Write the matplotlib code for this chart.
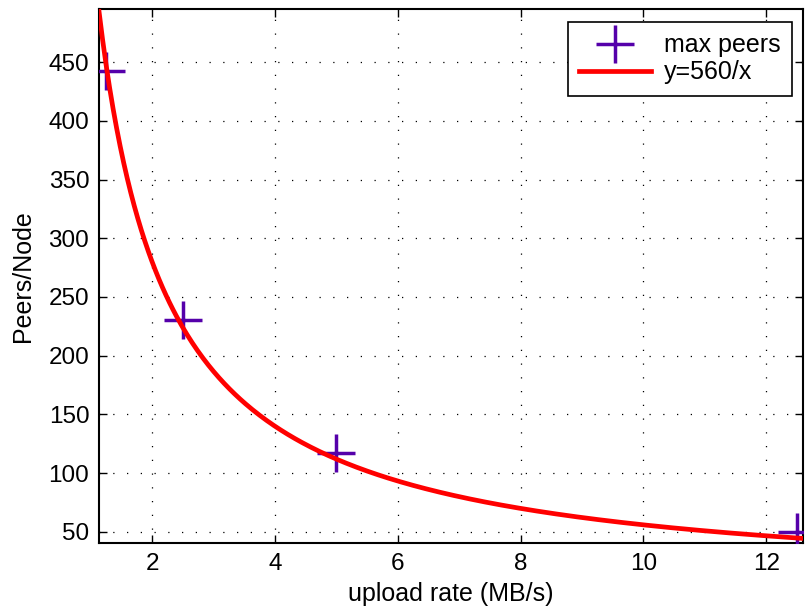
import numpy as np
import matplotlib
matplotlib.use("Agg")
import matplotlib.pyplot as plt

plt.rcParams['font.family'] = ['Liberation Sans', 'DejaVu Sans']

rate = [1.25, 2.5, 5.0, 12.5]
peers = [442, 230, 117, 50]
xticks = [2, 4, 6, 8, 10, 12]
yticks = [50, 100, 150, 200, 250, 300, 350, 400, 450]
xmin, xmax = 1.135, 12.6
ymin, ymax = 40.5, 495

fig = plt.figure(figsize=(8.08, 6.15), dpi=100)
ax = fig.add_axes([0.1225, 0.117, 0.8713, 0.868])

ax.plot(rate, peers, linestyle='none', marker='+', markersize=27,
        markeredgewidth=2.5, color='#5500aa', label='max peers', zorder=3)
xs = np.linspace(xmin, xmax, 400)
ax.plot(xs, 560 / xs, color='#ff0000', linewidth=3.4, label='y=560/x', zorder=4)

ax.set_xlim(xmin, xmax)
ax.set_ylim(ymin, ymax)
ax.set_xticks(xticks)
ax.set_yticks(yticks)
ax.tick_params(direction='in', length=6, width=1, labelsize=17.5, top=True, right=True, pad=7)
ax.grid(True, color='black', linestyle=(0, (1, 10)), linewidth=0.9)
for s in ax.spines.values():
    s.set_linewidth(1.5)

ax.set_xlabel('upload rate (MB/s)', fontsize=18, labelpad=5)
ax.set_ylabel('Peers/Node', fontsize=18, labelpad=10)

leg = ax.legend(loc='upper right', fontsize=18, fancybox=False, edgecolor='black',
                framealpha=1, handlelength=2.9, handletextpad=0.5, borderpad=0.45,
                labelspacing=0.12, borderaxespad=0, bbox_to_anchor=(0.984, 0.976))
leg.get_frame().set_linewidth(1.2)

fig.savefig('out.png', dpi=100)
